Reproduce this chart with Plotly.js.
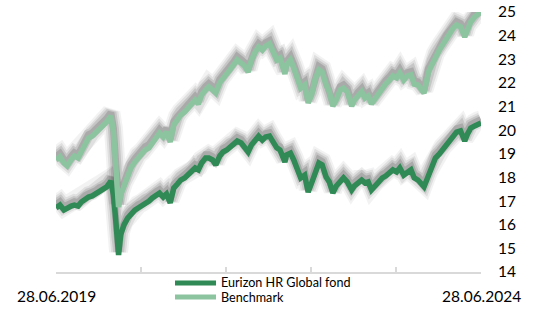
<!DOCTYPE html>
<html><head><meta charset="utf-8">
<script src="https://cdn.plot.ly/plotly-3.0.1.min.js"></script>
<style>
html,body{margin:0;padding:0;background:#fff;overflow:hidden;}
</style>
</head><body>
<div id="chart" style="width:538px;height:309px;"></div>
<script>
const dates = [
'2019-06-28','2019-07-15','2019-08-01','2019-08-15','2019-09-01','2019-09-15','2019-10-01','2019-10-15','2019-11-01','2019-11-15','2019-12-01','2019-12-15',
'2020-01-01','2020-01-15','2020-02-01','2020-02-19','2020-03-01','2020-03-09','2020-03-16','2020-03-23','2020-04-01','2020-04-15','2020-05-01','2020-05-15',
'2020-06-01','2020-06-15','2020-07-01','2020-07-15','2020-08-01','2020-08-15','2020-09-01','2020-09-15','2020-10-01','2020-10-15','2020-10-31','2020-11-15',
'2020-12-01','2020-12-15','2021-01-01','2021-01-15','2021-02-01','2021-02-15','2021-03-01','2021-03-15','2021-04-01','2021-04-15','2021-05-01','2021-05-15',
'2021-06-01','2021-06-15','2021-07-01','2021-07-15','2021-08-01','2021-08-15','2021-09-01','2021-09-15','2021-10-01','2021-10-15','2021-11-01','2021-11-15',
'2021-12-01','2021-12-15','2022-01-01','2022-01-15','2022-02-01','2022-02-15','2022-03-01','2022-03-08','2022-03-15','2022-04-01','2022-04-15','2022-05-01',
'2022-05-15','2022-06-01','2022-06-16','2022-07-01','2022-07-15','2022-08-01','2022-08-15','2022-09-01','2022-09-15','2022-09-30','2022-10-15','2022-11-01',
'2022-11-15','2022-12-01','2022-12-20','2023-01-01','2023-01-15','2023-02-01','2023-02-15','2023-03-01','2023-03-15','2023-04-01','2023-04-15','2023-05-01',
'2023-05-15','2023-06-01','2023-06-15','2023-07-01','2023-07-15','2023-08-01','2023-08-15','2023-09-01','2023-09-15','2023-10-01','2023-10-27','2023-11-15',
'2023-12-01','2023-12-15','2024-01-01','2024-01-15','2024-02-01','2024-02-15','2024-03-01','2024-03-15','2024-04-01','2024-04-19','2024-05-01','2024-05-15',
'2024-06-01','2024-06-15','2024-06-28'
];
const fund = [
16.71,16.83,16.62,16.71,16.79,16.83,16.79,16.96,17.09,17.17,17.22,17.30,
17.43,17.47,17.60,17.85,17.26,16.41,15.35,14.72,15.57,15.99,16.28,16.45,
16.62,16.71,16.79,16.92,17.00,17.13,17.26,17.34,17.17,17.30,16.92,17.55,
17.72,17.89,17.98,18.10,18.23,18.40,18.32,18.61,18.82,18.82,18.74,18.53,
18.91,19.08,19.16,19.29,19.37,19.54,19.46,19.29,19.08,19.37,19.58,19.75,
19.58,19.71,19.75,19.50,19.25,19.16,18.82,18.65,18.95,19.03,18.74,18.32,
17.98,18.10,17.38,17.77,18.23,18.61,18.53,18.02,17.81,17.34,17.64,17.85,
17.98,17.81,17.47,17.64,17.77,17.89,17.77,17.81,17.47,17.68,17.81,17.98,
18.06,18.19,18.32,18.23,18.40,18.10,18.23,18.32,17.98,17.89,17.60,18.10,
18.53,18.82,18.99,19.16,19.33,19.54,19.71,19.92,19.97,19.54,19.84,20.09,
20.18,20.26,20.30
];
const benchmark = [
18.74,18.87,18.61,18.49,18.74,18.91,18.82,19.08,19.50,19.67,19.75,19.88,
20.09,20.22,20.35,20.60,19.92,18.74,17.38,16.75,17.26,17.68,18.06,18.40,
18.65,18.82,18.95,19.16,19.25,19.46,19.67,19.88,19.71,19.92,19.50,20.22,
20.43,20.64,20.77,20.94,21.11,21.28,21.11,21.49,21.70,21.83,21.70,21.57,
22.00,22.21,22.38,22.55,22.76,22.97,22.84,22.72,22.46,22.97,23.31,23.52,
23.39,23.56,23.65,23.31,22.97,23.05,22.55,22.38,22.76,22.97,22.63,22.12,
21.78,21.91,21.15,21.49,22.12,22.55,22.46,21.91,21.62,21.02,21.28,21.70,
21.78,21.62,21.02,21.28,21.45,21.62,21.36,21.45,21.11,21.36,21.57,21.78,
21.95,22.12,22.29,22.21,22.42,22.12,22.29,22.34,21.95,21.91,21.57,22.46,
22.80,23.10,23.39,23.60,23.90,24.11,24.32,24.45,24.37,23.94,24.32,24.58,
24.79,24.92,25.00
];
const seriesNames = ['Eurizon HR Global fond', 'Benchmark'];
const seriesColors = ['#2f8a55', '#8dc4a0'];
const yearTicks = ['2019-06-28','2020-06-28','2021-06-28','2022-06-28','2023-06-28','2024-06-28'];
const startLabel = '28.06.2019';
const endLabel = '28.06.2024';
const yTicks = [14,15,16,17,18,19,20,21,22,23,24,25];

const FONT = 'Lato, "Open Sans", sans-serif';
const seriesValues = [fund, benchmark];

// soft drop shadow: a few translucent grey strokes of the same series, nudged upward
const SHADOW_SHIFT = 0.14;
const shadowLayers = [{w: 19, a: 0.05}, {w: 15, a: 0.08}, {w: 11, a: 0.11}, {w: 7, a: 0.14}];
const traces = [];
seriesValues.forEach(function(vals){
  const shifted = vals.map(function(v){ return v + SHADOW_SHIFT; });
  shadowLayers.forEach(function(s){
    traces.push({x: dates, y: shifted, type: 'scatter', mode: 'lines', hoverinfo: 'skip',
                 showlegend: false, line: {color: 'rgba(0,0,0,' + s.a + ')', width: s.w}});
  });
});
seriesValues.forEach(function(vals, i){
  traces.push({x: dates, y: vals, name: seriesNames[i], type: 'scatter', mode: 'lines',
               line: {color: seriesColors[i], width: 5.5}});
});

const legendRows = [-0.0423, -0.0962];
const legendShapes = seriesNames.map(function(n, i){
  return {type: 'line', xref: 'paper', yref: 'paper', x0: 0.28, x1: 0.3765,
          y0: legendRows[i], y1: legendRows[i], line: {color: seriesColors[i], width: 5}};
});
const legendLabels = seriesNames.map(function(n, i){
  return {x: 0.3835, xref: 'paper', y: legendRows[i], yref: 'paper', text: n, showarrow: false,
          xanchor: 'left', yanchor: 'middle', font: {family: FONT, size: 12.6, color: '#000'}};
});

const layout = {
  width: 538, height: 309,
  margin: {l: 56, r: 57, t: 12, b: 37, autoexpand: false},
  paper_bgcolor: '#fff', plot_bgcolor: '#fff',
  font: {family: FONT, color: '#000'},
  showlegend: false,
  xaxis: {type: 'date', range: [yearTicks[0], yearTicks[yearTicks.length-1]],
          tickvals: yearTicks, showticklabels: false, ticks: 'inside', ticklen: 5,
          tickcolor: '#d9d9d9', tickwidth: 1.5, showline: true, linecolor: '#d9d9d9', linewidth: 2,
          showgrid: false, zeroline: false, fixedrange: true},
  yaxis: {side: 'right', range: [14, 25], tickvals: yTicks, showgrid: false, zeroline: false,
          showline: false, ticks: '', ticklabelstandoff: 16,
          tickfont: {family: FONT, size: 15.5, color: '#000'}, fixedrange: true},
  shapes: legendShapes,
  annotations: [
    {x: yearTicks[0], xref: 'x', y: -0.092, yref: 'paper', text: startLabel, showarrow: false,
     xanchor: 'center', yanchor: 'middle', font: {family: FONT, size: 15.5, color: '#000'}},
    {x: yearTicks[yearTicks.length-1], xref: 'x', y: -0.092, yref: 'paper', text: endLabel, showarrow: false,
     xanchor: 'center', yanchor: 'middle', font: {family: FONT, size: 15.5, color: '#000'}}
  ].concat(legendLabels)
};

Plotly.newPlot('chart', traces, layout, {displayModeBar: false, staticPlot: true});
</script>
</body></html>
